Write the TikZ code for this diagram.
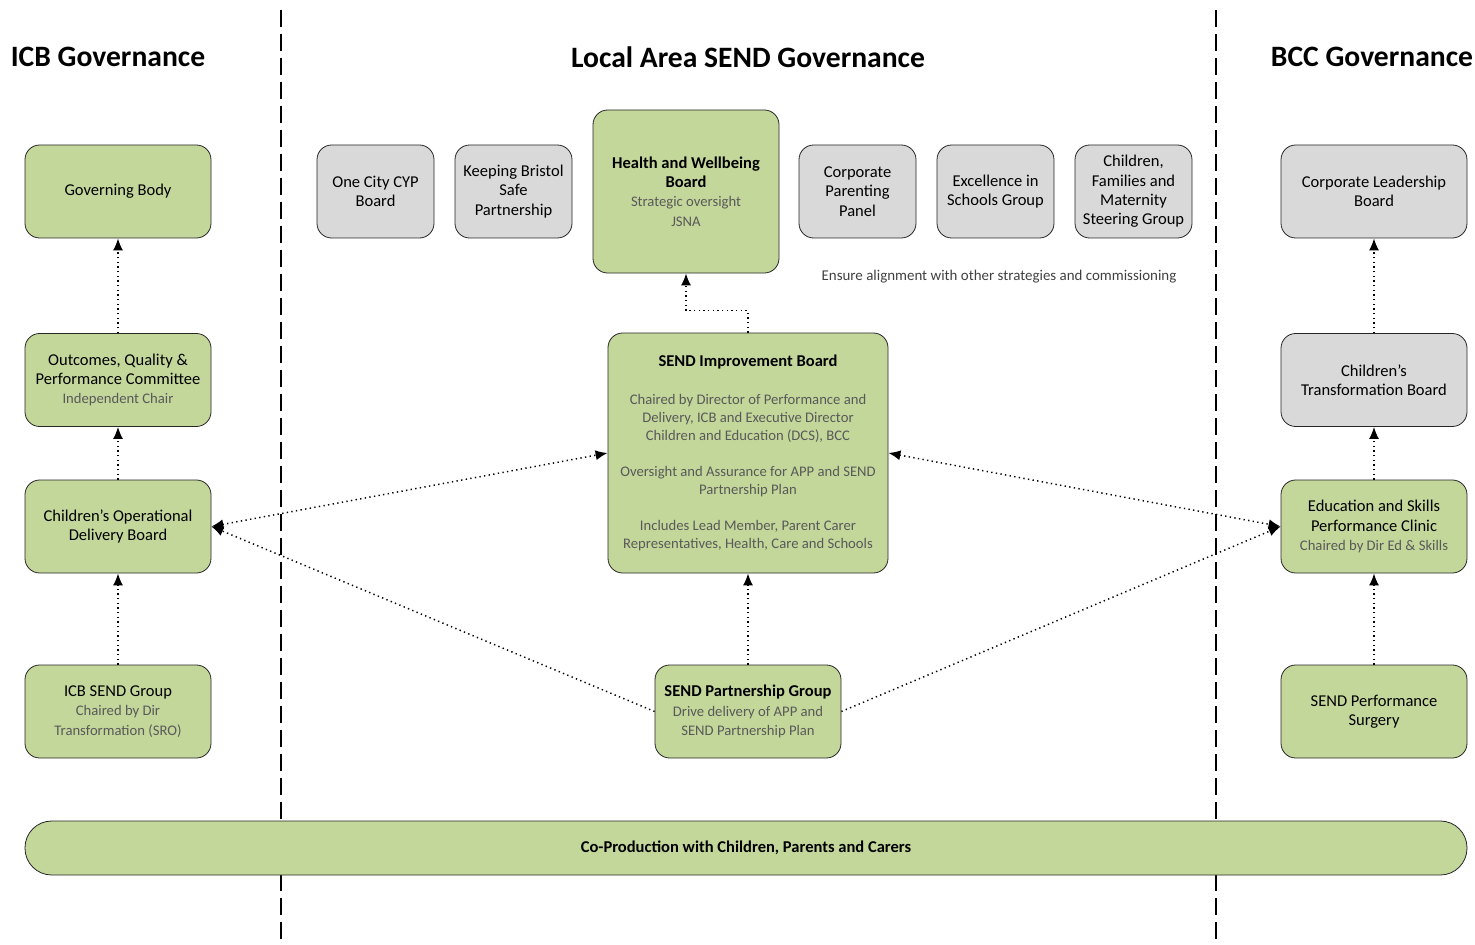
\documentclass[tikz,border=0pt]{standalone}
\usepackage{fontspec}
\setmainfont{Carlito}
\usepackage{tikz}
\usetikzlibrary{arrows.meta, positioning}

\definecolor{boxgreen}{HTML}{C4D79B}
\definecolor{boxgrey}{HTML}{D9D9D9}
\definecolor{subgrey}{HTML}{595959}
\newcommand{\subtxt}[1]{\textcolor{subgrey}{\fontsize{11}{13.5}\selectfont #1}}

\begin{document}
\begin{tikzpicture}[x=0.75pt, y=-0.75pt,
        board/.style={draw=black!85, line width=0.6pt, rounded corners=11pt, align=center, inner sep=2pt, font=\fontsize{12.4}{14.5}\selectfont},
        greenboard/.style={board, fill=boxgreen},
        greyboard/.style={board, fill=boxgrey},
        wide/.style={minimum width=139.5pt, minimum height=69.75pt},
        narrow/.style={minimum width=87.75pt, minimum height=69.75pt},
        link/.style={line width=1.1pt, dash pattern=on 1pt off 2.5pt, -{Latex[length=9pt, width=7.5pt]}},
        twoway/.style={link, {Latex[length=9pt, width=7.5pt]}-{Latex[length=9pt, width=7.5pt]}},
        divider/.style={line width=1.5pt, dash pattern=on 12.5pt off 5.5pt},
        heading/.style={font=\fontsize{22.2}{26}\selectfont\bfseries}
    ]
        \useasboundingbox (0,0) rectangle (1475,945);

        % Column dividers
        \draw[divider] (281,10) -- (281,945);
        \draw[divider] (1216,10) -- (1216,945);

        % Headings
        \node[heading] (icbhead) at (108,57) {ICB Governance};
        \node[heading] (localhead) at (748,57) {Local Area SEND Governance};
        \node[heading] (bcchead) at (1372,57) {BCC Governance};

        % ICB column
        \node[greenboard, wide] (govbody) at (118,191.5) {Governing Body};
        \node[greenboard, wide] (oqpc) at (118,380) {Outcomes, Quality \&\\Performance Committee\\\subtxt{Independent Chair}};
        \node[greenboard, wide] (codb) at (118,526.5) {Children’s Operational\\Delivery Board};
        \node[greenboard, wide] (icbsend) at (118,711.5) {ICB SEND Group\\\subtxt{Chaired by Dir}\\\subtxt{Transformation (SRO)}};

        % Local area boards
        \node[greyboard, narrow] (onecity) at (375.5,191.5) {One City CYP\\Board};
        \node[greyboard, narrow] (kbsp) at (513.5,191.5) {Keeping Bristol\\Safe\\Partnership};
        \node[greenboard, wide, minimum height=122.25pt] (hwb) at (686,191.5) {\textbf{Health and Wellbeing}\\\textbf{Board}\\\subtxt{Strategic oversight}\\\subtxt{JSNA}};
        \node[greyboard, narrow] (cpp) at (857.5,191.5) {Corporate\\Parenting\\Panel};
        \node[greyboard, narrow] (eisg) at (995.5,191.5) {Excellence in\\Schools Group};
        \node[greyboard, narrow] (cfmsg) at (1133.5,191.5) {Children,\\Families and\\Maternity\\Steering Group};
        \node[font=\fontsize{11.2}{13}\selectfont, text=black!75] (alignnote) at (999,277) {Ensure alignment with other strategies and commissioning};

        \node[greenboard, minimum width=210pt, minimum height=180pt, font=\fontsize{11}{13.5}\selectfont] (sib) at (748,453)
            {{\fontsize{12.4}{14.5}\selectfont\bfseries SEND Improvement Board}\\[14.5pt]
             \subtxt{Chaired by Director of Performance and}\\\subtxt{Delivery, ICB and Executive Director}\\\subtxt{Children and Education (DCS), BCC}\\[13.5pt]
             \subtxt{Oversight and Assurance for APP and SEND}\\\subtxt{Partnership Plan}\\[13.5pt]
             \subtxt{Includes Lead Member, Parent Carer}\\\subtxt{Representatives, Health, Care and Schools}};
        \node[greenboard, wide] (spg) at (748,711.5) {\textbf{SEND Partnership Group}\\\subtxt{Drive delivery of APP and}\\\subtxt{SEND Partnership Plan}};

        % BCC column
        \node[greyboard, wide] (clb) at (1374,191.5) {Corporate Leadership\\Board};
        \node[greyboard, wide] (ctb) at (1374,380) {Children’s\\Transformation Board};
        \node[greenboard, wide] (esclinic) at (1374,526.5) {Education and Skills\\Performance Clinic\\\subtxt{Chaired by Dir Ed \& Skills}};
        \node[greenboard, wide] (surgery) at (1374,711.5) {SEND Performance\\Surgery};

        % Co-production bar
        \node[greenboard, minimum width=1081.5pt, minimum height=40.5pt, rounded corners=20pt, font=\fontsize{12.4}{14}\selectfont\bfseries] (coprod) at (746,848) {Co-Production with Children, Parents and Carers};

        % Reporting lines
        \draw[link] (oqpc) -- (govbody);
        \draw[link] (codb) -- (oqpc);
        \draw[link] (icbsend) -- (codb);
        \draw[link] (ctb) -- (clb);
        \draw[link] (esclinic) -- (ctb);
        \draw[link] (surgery) -- (esclinic);
        \draw[link] (spg) -- (sib);
        \draw[link] (sib.north) -- ++(0,-22) -| (hwb.south);
        \draw[twoway] (codb.east) -- (sib.west);
        \draw[twoway] (sib.east) -- (esclinic.west);
        \draw[link] (spg.west) -- (codb.east);
        \draw[link] (spg.east) -- (esclinic.west);
    \end{tikzpicture}
\end{document}
